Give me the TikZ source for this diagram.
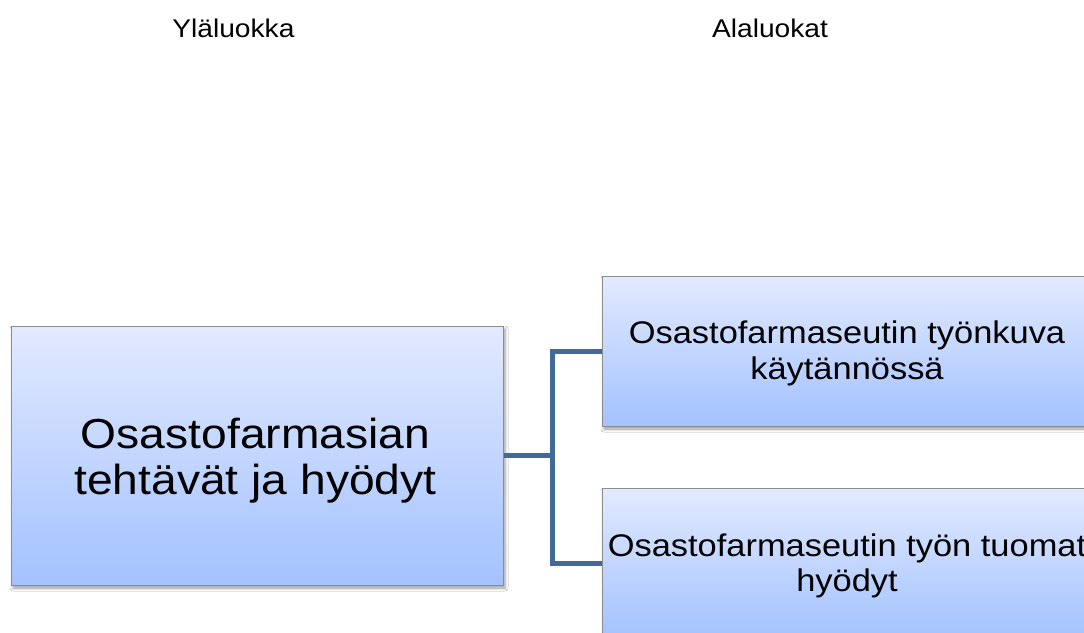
\documentclass[tikz,border=0pt]{standalone}
\usepackage{fontspec}
\setmainfont{Liberation Sans}
\newfontfamily\widesans[FakeStretch=1.1]{Liberation Sans}
\usetikzlibrary{shadows.blur}
\definecolor{boxtop}{RGB}{226,234,255}
\definecolor{boxbot}{RGB}{163,194,255}
\definecolor{boxline}{RGB}{140,140,140}
\definecolor{connc}{RGB}{65,105,154}
\tikzset{
  catbox/.style={rectangle, draw=boxline, line width=1pt, top color=boxtop, bottom color=boxbot,
    inner sep=0pt,
    blur shadow={shadow xshift=2pt, shadow yshift=-3pt, shadow blur radius=3pt, shadow opacity=40}},
  boxtext/.style={inner sep=0pt, align=center, text=black},
  bigtext/.style={boxtext, font=\widesans\fontsize{42}{46.2}\selectfont},
  midtext/.style={boxtext, font=\widesans\fontsize{31.3}{35.5}\selectfont},
  headtext/.style={font=\widesans\fontsize{25.6}{28}\selectfont, inner sep=0pt, anchor=base},
  conn/.style={draw=connc, line width=5pt}
}
\begin{document}
\begin{tikzpicture}[x=1pt, y=-1pt]
\useasboundingbox[fill=white] (0,0) rectangle (1084,632);
\node[headtext] (h1) at (233.4,37.7) {Yläluokka};
\node[headtext] (h2) at (770,37.7) {Alaluokat};
\coordinate (J) at (552.7,455.5);
\node[catbox, minimum width=492pt, minimum height=259pt] (L) at (257,455.5) {};
\node[bigtext] (Lt) at (255.5,460.5) {Osastofarmasian\\tehtävät ja hyödyt};
\node[catbox, minimum width=492pt, minimum height=150pt] (T) at (848,351) {};
\node[midtext] (Tt) at (847,353.5) {Osastofarmaseutin työnkuva\\käytännössä};
\node[catbox, minimum width=492pt, minimum height=150pt] (B) at (848,563) {};
\node[midtext] (Bt) at (847,566) {Osastofarmaseutin työn tuomat\\hyödyt};
\draw[conn] (L.east) -- (J);
\draw[conn] (T.west) -| (J) |- (B.west);
\end{tikzpicture}
\end{document}
